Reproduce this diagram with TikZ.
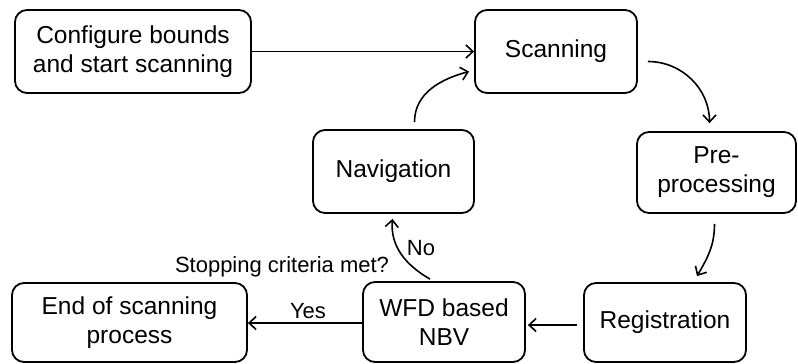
\documentclass[tikz,border=0pt]{standalone}
\usepackage{fontspec}
\setmainfont{Liberation Sans}
\usetikzlibrary{arrows.meta}
\begin{document}
\begin{tikzpicture}[x=1pt,y=-1pt,
  box/.style={draw, line width=1.8pt, rounded corners=12pt, align=center,
    font=\fontsize{24.5}{29}\selectfont, inner sep=0pt},
  conn/.style={line width=1.6pt, -{Straight Barb[length=7pt,width=13pt,line width=1.6pt]}},
  lbl/.style={font=\fontsize{22}{25}\selectfont, inner sep=0pt}]
\useasboundingbox (0,0) rectangle (798,364);
\node[box, minimum width=236pt, minimum height=83pt] (conf) at (133,51.5) {Configure bounds\\and start scanning};
\node[box, minimum width=162pt, minimum height=83pt] (scan) at (556,51.5) {Scanning};
\node[box, minimum width=159pt, minimum height=81pt] (pre) at (716.5,172.5) {Pre-\\processing};
\node[box, minimum width=161pt, minimum height=83pt] (nav) at (393.5,171.5) {Navigation};
\node[box, minimum width=162pt, minimum height=79pt] (reg) at (665,322.5) {Registration};
\node[box, minimum width=162pt, minimum height=80pt] (wfd) at (444,322) {WFD based\\NBV};
\node[box, minimum width=235pt, minimum height=79pt] (end) at (129.5,322.5) {End of scanning\\process};

\draw[conn] (conf) -- (scan);
\draw[conn] ([xshift=21pt,yshift=7pt]nav.north) to[out=90,in=195] ([xshift=-5pt,yshift=-20pt]scan.west);
\draw[conn] ([xshift=10pt,yshift=-10pt]scan.east) to[out=0,in=90] ([xshift=-7pt,yshift=8pt]pre.north);
\draw[conn] ([xshift=-2pt,yshift=-10pt]pre.south) to[out=-90,in=60] ([xshift=32pt,yshift=6pt]reg.north);
\draw[conn] ([xshift=-6pt,yshift=-2.5pt]reg.west) -- ([xshift=2pt,yshift=-3pt]wfd.east);
\draw[conn] ([yshift=-1pt]wfd.west) -- ([yshift=-0.5pt]end.east);
\draw[conn] ([xshift=-14pt,yshift=2pt]wfd.north) to[out=150,in=-95] ([xshift=-1pt,yshift=-5pt]nav.south);

\node[lbl] (yes) at (308,311) {Yes};
\node[lbl] (no) at (421,248) {No};
\node[lbl] (stop) at (282,267) {Stopping criteria met?};
\end{tikzpicture}
\end{document}
